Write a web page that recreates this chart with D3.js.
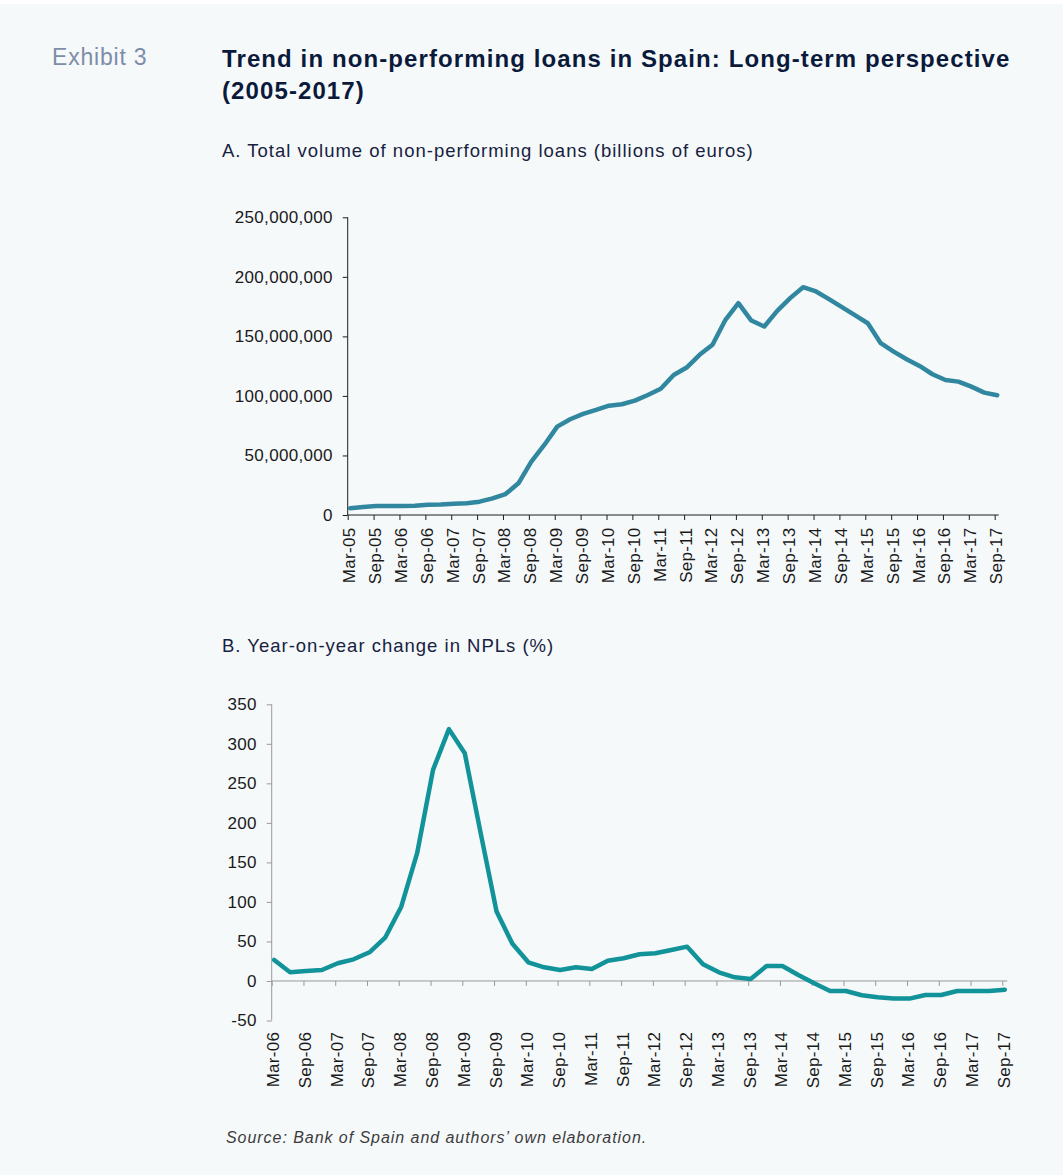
<!DOCTYPE html>
<html>
<head>
<meta charset="utf-8">
<script src="https://cdn.jsdelivr.net/npm/d3@7"></script>
<style>
  body { margin: 0; background: #ffffff; }
  svg { display: block; }
  text { font-family: "Liberation Sans", Arial, Helvetica, sans-serif; }
</style>
</head>
<body>
<div id="chart"></div>
<script>
// quarterly categories
var months = ["Mar", "Jun", "Sep", "Dec"];

// A. total NPL volume, Mar-05 .. Sep-17 (millions, shown on the axis in units)
var nplVolume = [5.6, 6.7, 7.6, 7.6, 7.6, 7.8, 8.7, 8.9, 9.5, 9.8, 11.2, 14.0, 17.6, 26.6,
    44.8, 58.8, 74.2, 80.4, 84.9, 88.2, 91.8, 93.0, 96.0, 100.8, 106.0, 117.6, 123.8,
    134.5, 142.9, 163.9, 177.9, 163.3, 158.3, 171.4, 182.1, 191.3, 187.7, 181.3, 174.5,
    167.8, 161.0, 144.3, 137.2, 130.8, 125.2, 118.2, 113.4, 112.0, 107.8, 102.8, 100.6];

// B. year-on-year change (%), Mar-06 .. Sep-17
var nplChange = [26.6, 11, 12.7, 13.9, 22.4, 27.4, 36.3, 55.3, 94, 161.6, 267, 318.6, 288,
    187, 87.8, 47, 23.6, 17.3, 13.9, 17.3, 15.2, 25.7, 28.7, 33.8, 35, 39.2, 43.4, 21.1,
    11, 4.6, 2.5, 19, 19, 7.6, -3, -12.7, -12.7, -18.1, -20.7, -22.3, -22.3, -17.7,
    -17.7, -12.7, -12.7, -12.7, -11];

var volumeTicks = [0, 50000000, 100000000, 150000000, 200000000, 250000000];
var changeTicks = [-50, 0, 50, 100, 150, 200, 250, 300, 350];

function quarterLabels(firstYear, count) {
    var out = [];
    for (var i = 0; i < count; i++) {
        var yr = firstYear + Math.floor(i / 4);
        out.push(months[i % 4] + "-" + String(yr).slice(2));
    }
    return out;
}

var volumeCats = quarterLabels(2005, nplVolume.length);
var changeCats = quarterLabels(2006, nplChange.length);

// label every second quarter (Mar / Sep)
var volumeXTicks = volumeCats.filter(function(d, i) { return i % 2 === 0; });
var changeXTicks = changeCats.filter(function(d, i) { return i % 2 === 0; });

var W = 1063, H = 1175;
var lineShift = 2.5;

var svg = d3.select("#chart").append("svg")
    .attr("width", W)
    .attr("height", H);

svg.append("rect")
    .attr("x", 0).attr("y", 4)
    .attr("width", W).attr("height", H - 4)
    .attr("fill", "#f6f9fa");

// headings
svg.append("text")
    .attr("x", 52).attr("y", 65)
    .attr("font-size", 23)
    .attr("letter-spacing", 0.8)
    .attr("fill", "#7d8da8")
    .text("Exhibit 3");

svg.append("text")
    .attr("x", 222).attr("y", 67)
    .attr("font-size", 24)
    .attr("letter-spacing", 1.1)
    .attr("font-weight", "bold")
    .attr("fill", "#0b1a3b")
    .text("Trend in non-performing loans in Spain: Long-term perspective");

svg.append("text")
    .attr("x", 222).attr("y", 99)
    .attr("font-size", 24)
    .attr("letter-spacing", 1.1)
    .attr("font-weight", "bold")
    .attr("fill", "#0b1a3b")
    .text("(2005-2017)");

svg.append("text")
    .attr("x", 222).attr("y", 157)
    .attr("font-size", 18.5)
    .attr("letter-spacing", 1)
    .attr("fill", "#16223f")
    .text("A. Total volume of non-performing loans (billions of euros)");

svg.append("text")
    .attr("x", 222).attr("y", 652)
    .attr("font-size", 18.5)
    .attr("letter-spacing", 1)
    .attr("fill", "#16223f")
    .text("B. Year-on-year change in NPLs (%)");

svg.append("text")
    .attr("x", 226).attr("y", 1143)
    .attr("font-size", 16)
    .attr("letter-spacing", 0.95)
    .attr("font-style", "italic")
    .attr("fill", "#3c3c3c")
    .text("Source: Bank of Spain and authors\u2019 own elaboration.");

// ---------- panel A ----------
var xA = d3.scalePoint().domain(volumeCats).range([347.7, 994.7]);
var yA = d3.scaleLinear().domain([0, 250000000]).range([515, 217.3]);

var gA = svg.append("g");

var yAxisA = gA.append("g")
    .attr("transform", "translate(347.7,0)")
    .call(d3.axisLeft(yA).tickValues(volumeTicks).tickFormat(d3.format(","))
        .tickSize(5).tickSizeOuter(0).tickPadding(10));
yAxisA.select(".domain").remove();
yAxisA.append("line").attr("x1", 0).attr("x2", 0).attr("y1", yA(250000000)).attr("y2", yA(0));

var xAxisA = gA.append("g")
    .attr("transform", "translate(0,515)")
    .call(d3.axisBottom(xA).tickValues(volumeXTicks).tickSize(5).tickSizeOuter(0));
xAxisA.select(".domain").remove();
xAxisA.append("line").attr("x1", xA.range()[0]).attr("x2", xA.range()[1] + 4).attr("y1", 0).attr("y2", 0);
xAxisA.selectAll(".tick text")
    .attr("transform", "rotate(-90)")
    .attr("text-anchor", "end")
    .attr("x", -12.5)
    .attr("y", 1)
    .attr("dy", "0.35em");

[yAxisA, xAxisA].forEach(function(ax) {
    ax.selectAll("line").attr("stroke", "#1e1e1e");
    ax.selectAll("text").attr("font-size", 17).attr("letter-spacing", 0.3).attr("fill", "#1a1a1a")
        .attr("font-family", "'Liberation Sans', Arial, sans-serif");
});

var lineA = d3.line()
    .x(function(d, i) { return xA(volumeCats[i]) + lineShift; })
    .y(function(d) { return yA(d * 1000000); });

gA.append("path")
    .datum(nplVolume)
    .attr("d", lineA)
    .attr("fill", "none")
    .attr("stroke", "#31879f")
    .attr("stroke-width", 4.5)
    .attr("stroke-linejoin", "round")
    .attr("stroke-linecap", "round");

// ---------- panel B ----------
var xB = d3.scalePoint().domain(changeCats).range([271.7, 1002.3]);
var yB = d3.scaleLinear().domain([-50, 350]).range([1020.5, 704.3]);

var gB = svg.append("g");

var yAxisB = gB.append("g")
    .attr("transform", "translate(271.7,0)")
    .call(d3.axisLeft(yB).tickValues(changeTicks)
        .tickFormat(function(d) { return String(d); })   // plain hyphen for -50
        .tickSize(5).tickSizeOuter(0).tickPadding(10));
yAxisB.select(".domain").remove();
yAxisB.append("line").attr("x1", 0).attr("x2", 0).attr("y1", yB(350)).attr("y2", yB(-50));

var xAxisB = gB.append("g")
    .attr("transform", "translate(0," + yB(0) + ")")
    .call(d3.axisBottom(xB).tickValues(changeXTicks).tickSize(5).tickSizeOuter(0));
xAxisB.select(".domain").remove();
xAxisB.append("line").attr("x1", xB.range()[0]).attr("x2", xB.range()[1] + 5).attr("y1", 0).attr("y2", 0);
xAxisB.selectAll(".tick text")
    .attr("transform", "rotate(-90)")
    .attr("text-anchor", "end")
    .attr("x", -(1031.7 - yB(0)))
    .attr("y", 1)
    .attr("dy", "0.35em");

[yAxisB, xAxisB].forEach(function(ax) {
    ax.selectAll("line").attr("stroke", "#9a9a9a");
    ax.selectAll("text").attr("font-size", 17).attr("letter-spacing", 0.3).attr("fill", "#1a1a1a")
        .attr("font-family", "'Liberation Sans', Arial, sans-serif");
});

var lineB = d3.line()
    .x(function(d, i) { return xB(changeCats[i]) + lineShift; })
    .y(function(d) { return yB(d); });

gB.append("path")
    .datum(nplChange)
    .attr("d", lineB)
    .attr("fill", "none")
    .attr("stroke", "#129299")
    .attr("stroke-width", 4.5)
    .attr("stroke-linejoin", "round")
    .attr("stroke-linecap", "round");
</script>
</body>
</html>
